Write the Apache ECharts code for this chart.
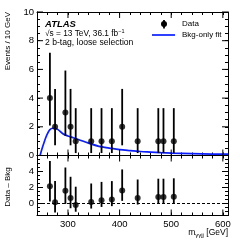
<!DOCTYPE html>
<html><head><meta charset="utf-8">
<script src="https://cdn.jsdelivr.net/npm/echarts@6/dist/echarts.min.js"></script>
<style>html,body{margin:0;padding:0;background:#fff}#c{width:240px;height:240px}</style>
</head><body><div id="c"></div>
<script>
const massCenters = [265,275,295,305,315,345,365,385,405,435,475,485,505];
const dataCounts  = [4,2,3,2,1,1,1,1,2,1,1,1,1];
const dataLow     = [2.09,0.71,1.37,0.71,0.17,0.17,0.17,0.17,0.71,0.17,0.17,0.17,0.17];
const dataHigh    = [7.16,4.64,5.92,4.64,3.30,3.30,3.30,3.30,4.64,3.30,3.30,3.30,3.30];
const diffVals    = [2.16,0.16,1.58,0.70,-0.20,0.20,0.40,0.50,1.62,0.70,0.80,0.80,0.85];
const diffLow     = [0.25,-1.13,-0.05,-0.59,-1.03,-0.63,-0.43,-0.33,0.33,-0.13,-0.03,-0.03,0.02];
const diffHigh    = [5.32,2.80,4.50,3.34,2.10,2.50,2.70,2.80,4.26,3.00,3.10,3.10,3.15];
const fitMass = [246,250,255,260,265,270,275,280,290,300,310,320,340,360,380,400,420,440,460,480,500,540,580,610];
const fitVals = [0,0.5,1.05,1.5,1.8,1.9,1.88,1.82,1.52,1.36,1.24,1.12,0.86,0.64,0.52,0.41,0.34,0.28,0.24,0.2,0.17,0.13,0.1,0.09];
const xRange = [240,610];
const yTopRange = [0,10];
const yBotRange = [-1.5,6];
const xMajor = [300,400,500,600];
const xLabels = ['300','400','500','600'];
const yTopMajor = [0,2,4,6,8,10];
const yTopLabels = ['0','2','4','6','8','10'];
const yBotMajor = [0,2,4,6];
const yBotLabels = ['0','2','4'];

const FONT = 'Liberation Sans';
const chart = echarts.init(document.getElementById('c'), null, {renderer:'canvas'});

function xAx(grid, pos, showLab){
  return {type:'value', gridIndex:grid, position:pos, min:xRange[0], max:xRange[1], interval:20,
    axisLine:{show:true,onZero:false,lineStyle:{color:'#000',width:1}},
    axisTick:{show:true,inside:true,length:3,lineStyle:{color:'#000',width:1}},
    axisLabel:{show:showLab, margin:4, color:'#000', fontFamily:FONT, fontSize:9.5,
      formatter:v=>{const i=xMajor.indexOf(v);return i>=0?xLabels[i]:'';}},
    splitLine:{show:false}};
}
function yAx(grid, pos, rng, labs, major){
  return {type:'value', gridIndex:grid, position:pos, min:rng[0], max:rng[1], interval:0.5,
    axisLine:{show:true,onZero:false,lineStyle:{color:'#000',width:1}},
    axisTick:{show:true,inside:true,length:3,lineStyle:{color:'#000',width:1}},
    axisLabel:{show:!!labs, margin:3, color:'#000', fontFamily:FONT, fontSize:9.5,
      formatter:v=>{if(!labs)return '';const i=major.indexOf(v);return (i>=0&&i<labs.length)?labs[i]:'';}},
    splitLine:{show:false}};
}
function majorTicks(grid, xr, yr, yMajor){
  const data = xMajor.map(v=>[v,0]).concat(yMajor.map(v=>[v,1]));
  return {type:'custom', xAxisIndex:grid*2, yAxisIndex:grid*2, silent:true, clip:false, z:5,
    data:data,
    renderItem:(params, api)=>{
      const v = api.value(0), k = api.value(1), L = 6;
      let a,b;
      if(k===0){a=api.coord([v,yr[0]]); b=api.coord([v,yr[1]]);
        return {type:'group',children:[
          {type:'line',shape:{x1:a[0],y1:a[1],x2:a[0],y2:a[1]-L},style:{stroke:'#000',lineWidth:1}},
          {type:'line',shape:{x1:b[0],y1:b[1],x2:b[0],y2:b[1]+L},style:{stroke:'#000',lineWidth:1}}]};}
      a=api.coord([xr[0],v]); b=api.coord([xr[1],v]);
      return {type:'group',children:[
        {type:'line',shape:{x1:a[0],y1:a[1],x2:a[0]+L,y2:a[1]},style:{stroke:'#000',lineWidth:1}},
        {type:'line',shape:{x1:b[0],y1:b[1],x2:b[0]-L,y2:b[1]},style:{stroke:'#000',lineWidth:1}}]};
    }};
}
function errBars(grid, lo, hi){
  return {type:'custom', xAxisIndex:grid*2, yAxisIndex:grid*2, silent:true, z:6,
    data: massCenters.map((m,i)=>[m, lo[i], hi[i]]),
    renderItem:(params, api)=>{
      const a = api.coord([api.value(0), api.value(1)]);
      const b = api.coord([api.value(0), api.value(2)]);
      return {type:'line',shape:{x1:a[0],y1:a[1],x2:b[0],y2:b[1]},style:{stroke:'#000',lineWidth:1.8}};
    }};
}

chart.setOption({
  animation:false,
  backgroundColor:'#fff',
  grid:[{left:37,top:12,width:191,height:143.5},{left:37,top:155.5,width:191,height:60}],
  xAxis:[xAx(0,'bottom',false), xAx(0,'top',false), xAx(1,'bottom',true), xAx(1,'top',false)],
  yAxis:[yAx(0,'left',yTopRange,yTopLabels,yTopMajor), yAx(0,'right',yTopRange,null,yTopMajor),
         yAx(1,'left',yBotRange,yBotLabels,yBotMajor), yAx(1,'right',yBotRange,null,yBotMajor)],
  series:[
    majorTicks(0, xRange, yTopRange, yTopMajor),
    majorTicks(1, xRange, yBotRange, yBotMajor),
    {type:'line', xAxisIndex:0, yAxisIndex:0, data:fitMass.map((m,i)=>[m,fitVals[i]]),
      smooth:0.35, showSymbol:false, silent:true, z:4, lineStyle:{color:'#0a1eff',width:1.7}},
    errBars(0, dataLow, dataHigh),
    {type:'scatter', xAxisIndex:0, yAxisIndex:0, data:massCenters.map((m,i)=>[m,dataCounts[i]]),
      symbol:'circle', symbolSize:6, itemStyle:{color:'#000'}, z:7, silent:true},
    errBars(1, diffLow, diffHigh),
    {type:'scatter', xAxisIndex:2, yAxisIndex:2, data:massCenters.map((m,i)=>[m,diffVals[i]]),
      symbol:'circle', symbolSize:6, itemStyle:{color:'#000'}, z:7, silent:true,
      markLine:{symbol:'none', silent:true, label:{show:false}, animation:false,
        lineStyle:{type:[3,2], color:'#000', width:1}, data:[{yAxis:0}]}}
  ],
  graphic:[
    {type:'text', x:8, y:12, rotation:Math.PI/2,
      style:{text:'Events / 10 GeV', font:'8px "Liberation Sans"', fill:'#000', textAlign:'right', textVerticalAlign:'middle'}},
    {type:'text', x:8, y:187, rotation:Math.PI/2,
      style:{text:'Data – Bkg', font:'8px "Liberation Sans"', fill:'#000', textAlign:'center', textVerticalAlign:'middle'}},
    {type:'text', x:228, y:233,
      style:{rich:{m:{fontFamily:FONT,fontSize:8.5,fill:'#000'},s:{fontFamily:FONT,fontSize:6,fill:'#000',padding:[5,0,0,0]},n:{fontFamily:FONT,fontSize:8.5,fill:'#000'}},
        text:'{m|m}{s|γγjj}{n| [GeV]}', textAlign:'right', textVerticalAlign:'middle'}},
    {type:'text', x:45, y:24, style:{text:'ATLAS', font:'italic bold 9.5px "Liberation Sans"', fill:'#000', textVerticalAlign:'middle'}},
    {type:'text', x:45, y:33.5, style:{rich:{a:{fontFamily:FONT,fontSize:8.3,fill:'#000'},b:{fontFamily:FONT,fontSize:5.5,fill:'#000',padding:[0,0,5,0]}},
        text:'{a|√s = 13 TeV, 36.1 fb}{b|−1}', textVerticalAlign:'middle'}},
    {type:'text', x:45, y:42.5, style:{text:'2 b-tag, loose selection', font:'8.6px "Liberation Sans"', fill:'#000', textVerticalAlign:'middle'}},
    {type:'line', shape:{x1:164,y1:20,x2:164,y2:28.5}, style:{stroke:'#000',lineWidth:1.8}},
    {type:'circle', shape:{cx:164,cy:24,r:3}, style:{fill:'#000'}},
    {type:'text', x:182, y:24, style:{text:'Data', font:'8px "Liberation Sans"', fill:'#000', textVerticalAlign:'middle'}},
    {type:'line', shape:{x1:152,y1:35,x2:175,y2:35}, style:{stroke:'#0a1eff',lineWidth:1.7}},
    {type:'text', x:182, y:34.5, style:{text:'Bkg-only fit', font:'8px "Liberation Sans"', fill:'#000', textVerticalAlign:'middle'}}
  ]
});
</script></body></html>
